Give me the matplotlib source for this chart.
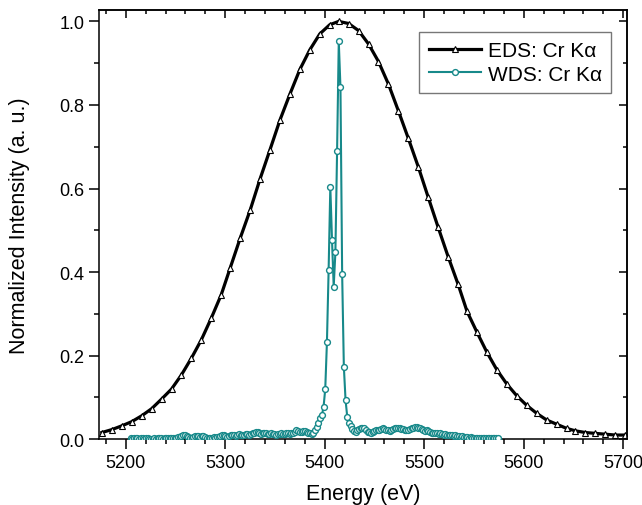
import numpy as np
import matplotlib.pyplot as plt
from matplotlib.ticker import MultipleLocator

plt.rcParams['font.family'] = ['Liberation Sans', 'DejaVu Sans']

# --- EDS Cr K-alpha (triangles) ---
eds_energy = [5176, 5186, 5196, 5206, 5216, 5226, 5236, 5246, 5256, 5266,
              5276, 5286, 5296, 5305, 5315, 5325, 5335, 5345, 5355, 5365,
              5375, 5385, 5395, 5405, 5414, 5424, 5434, 5444, 5454, 5464,
              5474, 5484, 5494, 5504, 5514, 5524, 5534, 5543, 5553, 5563,
              5573, 5583, 5593, 5603, 5613, 5623, 5633, 5643, 5652, 5662,
              5672, 5682, 5692, 5702]
eds_int = [0.016, 0.023, 0.032, 0.042, 0.056, 0.073, 0.096, 0.120, 0.154, 0.194,
           0.238, 0.290, 0.346, 0.410, 0.481, 0.548, 0.623, 0.693, 0.764, 0.826,
           0.885, 0.932, 0.970, 0.992, 1.000, 0.995, 0.978, 0.946, 0.904, 0.850,
           0.786, 0.720, 0.652, 0.579, 0.507, 0.437, 0.371, 0.306, 0.256, 0.208,
           0.166, 0.132, 0.104, 0.081, 0.062, 0.046, 0.036, 0.026, 0.020, 0.016,
           0.014, 0.012, 0.010, 0.010]

# --- WDS Cr K-alpha (circles), evenly sampled from 5205 eV in 1.7 eV steps ---
wds_start = 5205.0
wds_step = 1.7
wds_int = [
    0.002, 0.001, 0.002, 0.003, 0.002, 0.001, 0.002, 0.002, 0.001, 0.003,
    0.002, 0.001, 0.000, 0.001, 0.002, 0.001, 0.002, 0.003, 0.002, 0.001,
    0.002, 0.003, 0.004, 0.003, 0.002, 0.003, 0.004, 0.003, 0.005, 0.006,
    0.008, 0.010, 0.009, 0.007, 0.005,
    0.004, 0.003, 0.005, 0.007, 0.008, 0.007, 0.006, 0.008, 0.007, 0.005, 0.004,
    0.004, 0.003, 0.004, 0.005, 0.004, 0.006, 0.005, 0.007, 0.010, 0.009,
    0.007, 0.006, 0.008, 0.010, 0.011, 0.009, 0.008, 0.010, 0.012, 0.011,
    0.009, 0.010, 0.012, 0.013, 0.011, 0.012, 0.014, 0.016, 0.018, 0.017,
    0.015, 0.013, 0.014, 0.016, 0.015, 0.013, 0.012, 0.014, 0.013, 0.012,
    0.011, 0.013, 0.012, 0.014, 0.013, 0.012, 0.014, 0.015, 0.013, 0.014,
    0.016, 0.018, 0.021, 0.020, 0.017, 0.018, 0.020, 0.019, 0.017, 0.016,
    0.014, 0.012, 0.016,
    0.022, 0.030, 0.040, 0.050, 0.057, 0.077, 0.120, 0.232, 0.405, 0.604,
    0.477, 0.365, 0.447, 0.689, 0.952, 0.842, 0.395, 0.174, 0.094, 0.054,
    0.040, 0.032,
    0.024, 0.020, 0.018, 0.022, 0.025, 0.027, 0.028, 0.026, 0.022, 0.018,
    0.017, 0.016, 0.018, 0.020, 0.022, 0.021, 0.023, 0.025, 0.026, 0.024,
    0.022, 0.021, 0.020, 0.022, 0.024, 0.026, 0.027, 0.028, 0.027, 0.025,
    0.024, 0.022, 0.021, 0.023, 0.025, 0.027, 0.028, 0.030, 0.029, 0.028,
    0.026, 0.024, 0.022, 0.020, 0.021, 0.019, 0.018, 0.016, 0.015, 0.016,
    0.014, 0.013, 0.015, 0.013, 0.011, 0.012, 0.010, 0.011, 0.009, 0.010,
    0.008, 0.009, 0.007, 0.008, 0.006, 0.007, 0.005, 0.006, 0.005, 0.004,
    0.005, 0.004, 0.003, 0.004, 0.003, 0.003, 0.002, 0.003, 0.002, 0.003,
    0.002, 0.003, 0.002, 0.003, 0.004, 0.003, 0.004,
]
wds_energy = wds_start + wds_step * np.arange(len(wds_int))

teal = '#17898a'

fig = plt.figure(figsize=(6.42, 5.06), dpi=100)
ax = fig.add_axes([0.154, 0.130, 0.823, 0.848])

ax.plot(eds_energy, eds_int, color='black', linewidth=2.3, marker='^',
        markersize=5, markerfacecolor='white', markeredgecolor='black',
        markeredgewidth=0.8, label='EDS: Cr Kα', zorder=2)
ax.plot(wds_energy, wds_int, color=teal, linewidth=1.5, marker='o',
        markersize=4.2, markerfacecolor='white', markeredgecolor=teal,
        markeredgewidth=1.0, label='WDS: Cr Kα', zorder=3)

ax.set_xlim(5173, 5704)
ax.set_ylim(0, 1.027)

ax.xaxis.set_major_locator(MultipleLocator(100))
ax.xaxis.set_minor_locator(MultipleLocator(20))
ax.yaxis.set_major_locator(MultipleLocator(0.2))
ax.yaxis.set_minor_locator(MultipleLocator(0.1))

ax.tick_params(which='both', labelsize=13, width=1.1)
ax.tick_params(which='major', length=7)
ax.tick_params(which='minor', length=3.6)
ax.tick_params(axis='x', which='both', direction='out', top=False)
ax.tick_params(axis='y', which='both', direction='out', right=False)

# top/right ticks point inward, no labels
sec_x = ax.secondary_xaxis('top')
sec_x.xaxis.set_major_locator(MultipleLocator(100))
sec_x.xaxis.set_minor_locator(MultipleLocator(20))
sec_x.tick_params(which='both', direction='in', labeltop=False, width=1.1)
sec_x.tick_params(which='major', length=6)
sec_x.tick_params(which='minor', length=3)
sec_y = ax.secondary_yaxis('right')
sec_y.yaxis.set_major_locator(MultipleLocator(0.2))
sec_y.yaxis.set_minor_locator(MultipleLocator(0.1))
sec_y.tick_params(which='both', direction='in', labelright=False, width=1.1)
sec_y.tick_params(which='major', length=6)
sec_y.tick_params(which='minor', length=3)

for s in ax.spines.values():
    s.set_linewidth(1.1)
sec_x.spines['top'].set_linewidth(1.1)
sec_y.spines['right'].set_linewidth(1.1)

ax.set_xlabel('Energy (eV)', fontsize=15.5, labelpad=9)
ax.set_ylabel('Normalized Intensity (a. u.)', fontsize=15.5, labelpad=21)

leg = ax.legend(loc='upper right', bbox_to_anchor=(0.970, 0.949),
                borderaxespad=0, fontsize=15, fancybox=False, numpoints=1,
                handlelength=2.5, handletextpad=0.35, borderpad=0.45,
                labelspacing=0.2)
leg.get_frame().set_edgecolor('#555555')
leg.get_frame().set_linewidth(1.0)

fig.savefig('out.png', dpi=100)
